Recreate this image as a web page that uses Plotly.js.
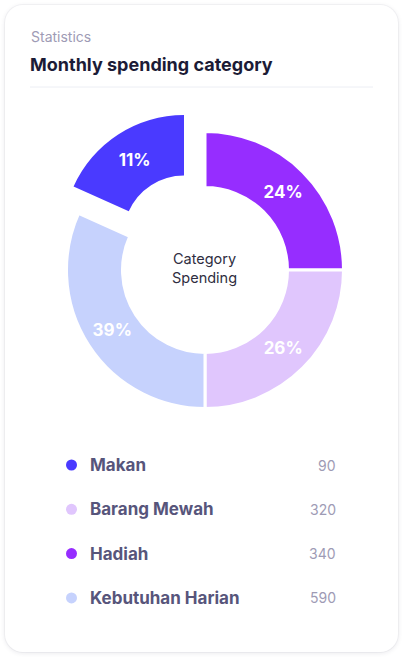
<!DOCTYPE html>
<html><head><meta charset="utf-8">
<script src="https://cdn.plot.ly/plotly-3.0.1.min.js"></script>
<style>
html,body{margin:0;padding:0;background:#fff;width:403px;height:660px;overflow:hidden}
#card{position:absolute;left:5px;top:5px;width:393px;height:647px;border-radius:18px;background:#fff;box-shadow:0 1px 5px rgba(30,30,70,0.10),0 0 0 1px rgba(30,30,70,0.035)}
#chart{position:absolute;left:0;top:0;width:403px;height:660px}
</style></head><body>
<div id="card"></div><div id="chart"></div>
<script>
// ---- data ----
const categories = ['Makan', 'Barang Mewah', 'Hadiah', 'Kebutuhan Harian'];
const amounts = [90, 320, 340, 590];
const percentLabels = ['11%', '26%', '24%', '39%'];
const sliceShares = [18.3, 25, 25, 31.7];   // angular share of each slice as drawn
const colors = ['#4A3AFF', '#E0C6FD', '#962DFF', '#C6D2FD'];
const pieOrder = [2, 1, 3, 0];               // clockwise from 12 o'clock
const explodedCategory = 'Makan';

// ---- build ----
const W = 403, H = 660;
const px = v => v / W, py = v => 1 - v / H;
const clear = 'rgba(0,0,0,0)';
const pLabels = pieOrder.map(i => categories[i]);
const pValues = pieOrder.map(i => sliceShares[i]);
const isEx = pLabels.map(l => l === explodedCategory);

const ringFont = {family: 'Inter', size: 17, color: '#ffffff', weight: 700};

const mainPie = {
  type: 'pie', sort: false, direction: 'clockwise', rotation: 0,
  labels: pLabels, values: pValues,
  hole: 82.5 / 138.5,
  domain: {x: [px(66.5), px(343.5)], y: [py(408.5), py(131.5)]},
  marker: {colors: pieOrder.map((i, k) => isEx[k] ? clear : colors[i]),
           line: {color: isEx.map(e => e ? clear : '#ffffff'), width: 3}},
  text: pieOrder.map((i, k) => isEx[k] ? '' : percentLabels[i]),
  textinfo: 'text', textposition: 'inside', insidetextorientation: 'horizontal',
  insidetextfont: ringFont, hoverinfo: 'skip', showlegend: false
};

const exPie = {
  type: 'pie', sort: false, direction: 'clockwise', rotation: 0,
  labels: pLabels, values: pValues,
  hole: 0.5,
  domain: {x: [px(63), px(305)], y: [py(357), py(115)]},
  marker: {colors: pieOrder.map((i, k) => isEx[k] ? colors[i] : clear),
           line: {color: clear, width: 0}},
  text: pieOrder.map((i, k) => isEx[k] ? percentLabels[i] : ''),
  textinfo: 'text', textposition: 'inside', insidetextorientation: 'horizontal',
  insidetextfont: ringFont, hoverinfo: 'skip', showlegend: false
};

const rows = categories.map((c, i) => i);
const dots = {
  type: 'scatter', mode: 'markers', x: rows.map(() => 0), y: rows,
  marker: {color: colors, size: 11, line: {width: 0}},
  hoverinfo: 'skip', showlegend: false, xaxis: 'x', yaxis: 'y'
};

const annotations = [
  {text: 'Statistics', xref: 'paper', yref: 'paper', x: px(28.5), y: py(37),
   xanchor: 'left', yanchor: 'middle', showarrow: false,
   font: {family: 'Inter', size: 14, color: '#9E9BB5'}},
  {text: 'Monthly spending category', xref: 'paper', yref: 'paper', x: px(27.5), y: py(64.5),
   xanchor: 'left', yanchor: 'middle', showarrow: false,
   font: {family: 'Inter', size: 18, color: '#1C1B36', weight: 700}},
  {text: 'Category<br>Spending', xref: 'paper', yref: 'paper', x: px(204), y: py(268.5),
   xanchor: 'center', yanchor: 'middle', showarrow: false, align: 'center',
   font: {family: 'Inter', size: 14.5, color: '#2F2E41'}}
];
categories.forEach((c, i) => {
  annotations.push({text: c, xref: 'paper', yref: 'y', x: px(88), y: i,
    xanchor: 'left', yanchor: 'middle', showarrow: false,
    font: {family: 'Inter', size: 17, color: '#57557B', weight: 700}});
  annotations.push({text: String(amounts[i]), xref: 'paper', yref: 'y', x: px(338), y: i,
    xanchor: 'right', yanchor: 'middle', showarrow: false,
    font: {family: 'Inter', size: 14, color: '#9E9BB5'}});
});

const rowGap = 44.3, row0 = 465;
const layout = {
  width: W, height: H, margin: {l: 0, r: 0, t: 0, b: 0, pad: 0},
  paper_bgcolor: clear, plot_bgcolor: clear,
  xaxis: {domain: [0, 1], range: [-71.5, 331.5], visible: false, fixedrange: true},
  yaxis: {domain: [py(row0 + 3.5 * rowGap), py(row0 - 0.5 * rowGap)], range: [3.5, -0.5],
          visible: false, fixedrange: true},
  shapes: [{type: 'line', xref: 'paper', yref: 'paper', x0: px(30), x1: px(373),
            y0: py(87), y1: py(87), line: {color: '#ECEEF4', width: 1}}],
  annotations: annotations,
  showlegend: false
};

Plotly.newPlot('chart', [mainPie, exPie, dots], layout, {displayModeBar: false, staticPlot: true});
</script></body></html>
